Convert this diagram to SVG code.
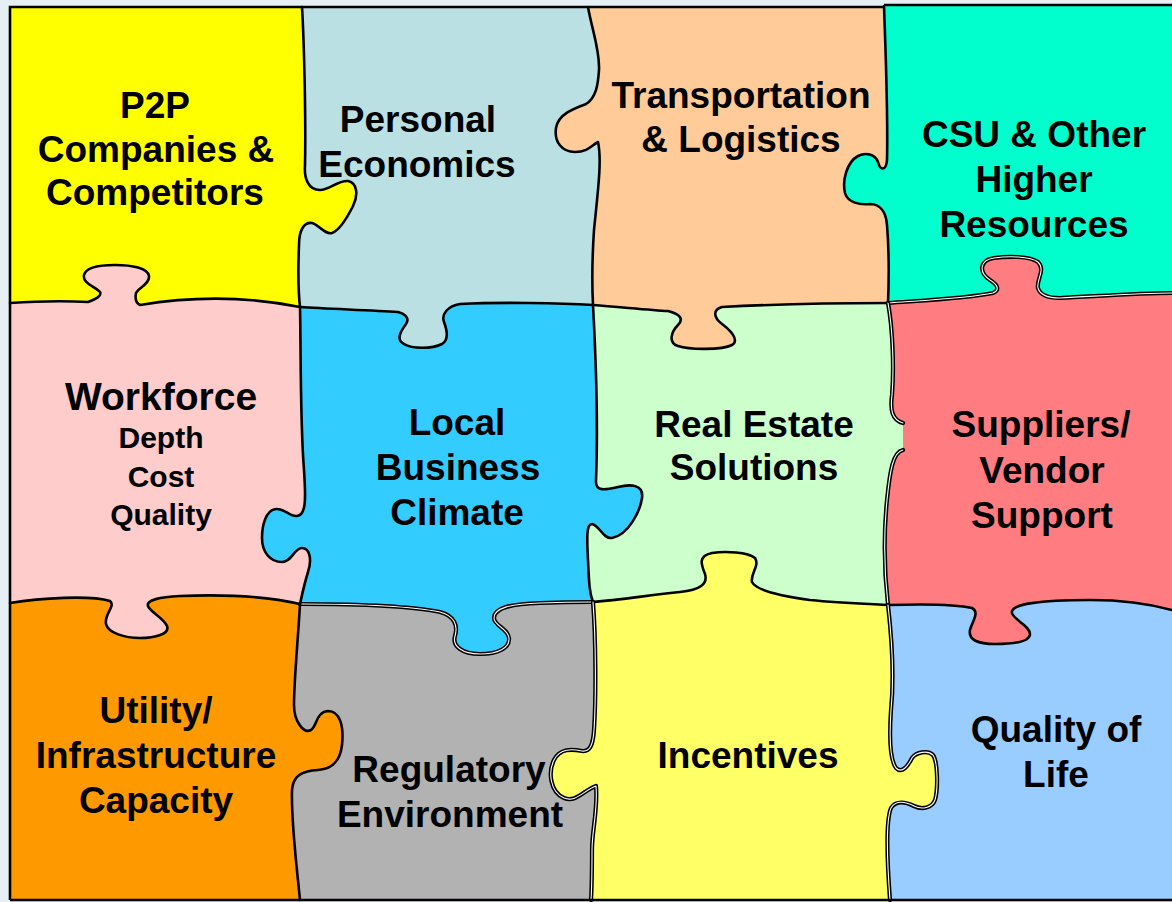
<svg xmlns="http://www.w3.org/2000/svg" width="1172" height="902" viewBox="0 0 1172 902">
<style>
.t{font-family:"Liberation Sans",Arial,sans-serif;font-weight:bold;font-size:37px;fill:#000;text-anchor:middle}
.big{font-size:39px}
.sm{font-size:30px}
.seam{fill:none;stroke:#000;stroke-width:2.6;stroke-linejoin:round;stroke-linecap:round}
.dbo{fill:none;stroke:#000;stroke-width:4.2;stroke-linejoin:round;stroke-linecap:round}
.dbi{fill:none;stroke:#fff;stroke-width:1.1;stroke-linejoin:round;stroke-linecap:round}
.border{fill:none;stroke:#000;stroke-width:2.6}
</style>
<rect x="0" y="0" width="1172" height="902" fill="#e6eff4"/>
<g id="pieces">
<g id="p2p">
<path fill="#FFFF00" d="M10,7 L302,7 C304,40 306,120 305,165 C304,178 308,190 320,190 C330,190 338,180 348,181 C358,183 358,196 353,206 C347,218 340,230 332,233 C325,235 318,224 312,223 C304,222 299,230 299,245 C298,270 298,290 300,307 C230,293 170,300 140,305 C136,303 135,298 136,293 C138,288 150,284 149,276 C148,268 132,265 115,265 C100,265 86,267 84,275 C82,283 96,287 100,292 C102,296 96,299 88,302 C70,301 40,301 10,303 Z"/>
<text class="t" x="155" y="118">P2P</text>
<text class="t" x="156" y="162">Companies &amp;</text>
<text class="t" x="155" y="205">Competitors</text>
</g>
<g id="personal">
<path fill="#BBE0E3" d="M302,7 L588,7 C592,30 600,50 599,70 C598,85 596,98 586,104 C575,108 558,114 556,128 C554,142 562,152 575,152 C588,152 592,145 598,142 C602,160 598,190 594,230 C592,260 592,285 593,305 C560,303 500,302 460,304 C448,306 441,314 444,322 C447,330 449,340 442,344 C432,349 412,349 404,344 C396,340 400,332 406,324 C410,318 405,314 398,312 C370,310 330,309 300,307 C298,290 298,270 299,245 C299,230 304,222 312,223 C318,224 325,235 332,233 C340,230 347,218 353,206 C358,196 358,183 348,181 C338,180 330,190 320,190 C308,190 304,178 305,165 C306,120 304,40 302,7 Z"/>
<text class="t" x="418" y="132">Personal</text>
<text class="t" x="417" y="177">Economics</text>
</g>
<g id="transportation">
<path fill="#FFCC99" d="M588,7 L884,6 C886,60 888,120 887,160 C886,172 880,170 878,162 C875,154 866,152 858,156 C847,162 842,180 845,193 C848,203 860,205 870,204 C880,204 886,212 887,225 C889,250 889,280 888,303 C840,303 780,304 722,307 C712,310 714,318 722,324 C730,330 740,340 732,345 C722,350 690,350 678,346 C668,343 671,332 678,325 C684,319 680,314 668,311 C650,310 620,307 593,305 C592,285 592,260 594,230 C598,190 602,160 598,142 C592,145 588,152 575,152 C562,152 554,142 556,128 C558,114 575,108 586,104 C596,98 598,85 599,70 C600,50 592,30 588,7 Z"/>
<text class="t" x="741" y="108">Transportation</text>
<text class="t" x="741" y="152">&amp; Logistics</text>
</g>
<g id="csu">
<path fill="#00FFCC" d="M884,5 L1172,5 L1172,293 C1140,293 1100,296 1060,298 C1048,298 1040,295 1038,288 C1036,280 1046,270 1038,262 C1030,256 1008,256 994,258 C980,260 978,272 990,280 C998,285 1000,290 993,293 C970,298 930,300 888,303 C889,280 889,250 887,225 C886,212 880,204 870,204 C860,205 848,203 845,193 C842,180 847,162 858,156 C866,152 875,154 878,162 C880,170 886,172 887,160 C888,120 886,60 884,6 Z"/>
<text class="t" x="1034" y="147">CSU &amp; Other</text>
<text class="t" x="1034" y="192">Higher</text>
<text class="t" x="1034" y="237">Resources</text>
</g>
<g id="workforce">
<path fill="#FFCCCC" d="M10,303 C40,301 70,301 88,302 C96,299 102,296 100,292 C96,287 82,283 84,275 C86,267 100,265 115,265 C132,265 148,268 149,276 C150,284 138,288 136,293 C135,298 136,303 140,305 C170,300 230,293 300,307 C301,350 300,420 304,470 C306,500 306,515 297,516 C290,517 284,508 276,509 C266,510 262,525 262,538 C262,552 270,562 282,562 C292,562 294,548 302,548 C310,548 312,560 308,572 C304,585 302,595 300,604 C270,597 230,594 180,596 C160,597 146,600 148,606 C150,612 164,618 167,626 C170,634 155,638 140,638 C125,638 108,633 106,624 C104,614 116,606 110,601 C90,595 40,598 10,603 Z"/>
<text class="t big" x="161" y="410">Workforce</text>
<text class="t sm" x="161" y="448">Depth</text>
<text class="t sm" x="161" y="487">Cost</text>
<text class="t sm" x="161" y="525">Quality</text>
</g>
<g id="local-business">
<path fill="#33CCFF" d="M300,307 C330,309 370,310 398,312 C405,314 410,318 406,324 C400,332 396,340 404,344 C412,349 432,349 442,344 C449,340 447,330 444,322 C441,314 448,306 460,304 C500,302 560,303 593,305 C596,360 598,430 596,480 C595,492 605,490 618,487 C630,484 644,484 642,498 C640,512 628,535 612,538 C603,539 600,526 592,524 C586,524 587,540 588,560 C589,580 589,592 593,602 C585,602 565,602 540,603 C510,604 494,608 494,618 C494,626 508,628 509,638 C510,648 498,654 480,654 C462,654 452,646 455,636 C458,626 455,616 440,612 C410,606 350,604 300,604 C302,595 304,585 308,572 C312,560 310,548 302,548 C294,548 292,562 282,562 C270,562 262,552 262,538 C262,525 266,510 276,509 C284,508 290,517 297,516 C306,515 306,500 304,470 C300,420 301,350 300,307 Z"/>
<text class="t" x="457" y="435">Local</text>
<text class="t" x="458" y="480">Business</text>
<text class="t" x="457" y="525">Climate</text>
</g>
<g id="real-estate">
<path fill="#CCFFCC" d="M593,305 C620,307 650,310 668,311 C680,314 684,319 678,325 C671,332 668,343 678,346 C690,350 722,350 732,345 C740,340 730,330 722,324 C714,318 712,310 722,307 C780,304 840,303 888,303 C893,330 894,370 892,395 C890,410 892,420 903,423 L903,450 C893,452 890,470 887,500 C884,530 884,570 888,605 C870,604 840,603 810,600 C780,596 756,590 752,582 C750,574 760,566 755,558 C748,552 725,551 712,553 C698,556 701,564 705,574 C708,584 700,590 680,592 C650,595 620,600 593,602 C589,592 589,580 588,560 C587,540 586,524 592,524 C600,526 603,539 612,538 C628,535 640,512 642,498 C644,484 630,484 618,487 C605,490 595,492 596,480 C598,430 596,360 593,305 Z"/>
<text class="t" x="754" y="437">Real Estate</text>
<text class="t" x="754" y="480">Solutions</text>
</g>
<g id="suppliers">
<path fill="#FF7C80" d="M888,303 C930,300 970,298 993,293 C1000,290 998,285 990,280 C978,272 980,260 994,258 C1008,256 1030,256 1038,262 C1046,270 1036,280 1038,288 C1040,295 1048,298 1060,298 C1100,296 1140,293 1172,293 L1172,610 C1150,604 1120,600 1090,600 C1040,600 1010,604 1012,613 C1014,620 1030,626 1030,634 C1030,642 1012,644 995,644 C978,644 968,640 970,630 C972,622 980,612 972,608 C955,604 920,604 888,605 C884,570 884,530 887,500 C890,470 893,452 903,450 L903,423 C892,420 890,410 892,395 C894,370 893,330 888,303 Z"/>
<text class="t" x="1041" y="437">Suppliers/</text>
<text class="t" x="1042" y="483">Vendor</text>
<text class="t" x="1042" y="528">Support</text>
</g>
<g id="utility">
<path fill="#FF9900" d="M10,603 C40,598 90,595 110,601 C116,606 104,614 106,624 C108,633 125,638 140,638 C155,638 170,634 167,626 C164,618 150,612 148,606 C146,600 160,597 180,596 C230,594 270,597 300,604 C298,640 294,680 294,705 C294,722 304,734 311,730 C317,726 316,712 328,711 C340,711 344,726 342,745 C340,762 332,769 318,770 C304,771 293,774 292,790 C291,820 296,860 300,900 L10,900 Z"/>
<text class="t" x="156" y="723">Utility/</text>
<text class="t" x="156" y="768">Infrastructure</text>
<text class="t" x="156" y="813">Capacity</text>
</g>
<g id="regulatory">
<path fill="#B2B2B2" d="M300,604 C350,604 410,606 440,612 C455,616 458,626 455,636 C452,646 462,654 480,654 C498,654 510,648 509,638 C508,628 494,626 494,618 C494,608 510,604 540,603 C565,602 585,602 593,602 C596,640 596,700 594,730 C593,745 590,752 582,751 C572,749 560,748 554,760 C548,772 550,792 564,798 C576,803 584,790 596,786 C598,810 592,830 592,850 C592,870 592,885 591,900 L300,900 C296,860 291,820 292,790 C293,774 304,771 318,770 C332,769 340,762 342,745 C344,726 340,711 328,711 C316,712 317,726 311,730 C304,734 294,722 294,705 C294,680 298,640 300,604 Z"/>
<text class="t" x="449" y="782">Regulatory</text>
<text class="t" x="450" y="827">Environment</text>
</g>
<g id="incentives">
<path fill="#FFFF66" d="M593,602 C620,600 650,595 680,592 C700,590 708,584 705,574 C701,564 698,556 712,553 C725,551 748,552 755,558 C760,566 750,574 752,582 C756,590 780,596 810,600 C840,603 870,604 888,605 C892,640 894,680 891,710 C889,740 890,760 896,768 C902,774 908,766 912,758 C916,752 928,750 933,755 C938,762 938,790 935,800 C932,808 922,810 914,806 C906,802 896,800 891,808 C886,820 887,860 890,900 L591,900 C592,885 592,870 592,850 C592,830 598,810 596,786 C584,790 576,803 564,798 C550,792 548,772 554,760 C560,748 572,749 582,751 C590,752 593,745 594,730 C596,700 596,640 593,602 Z"/>
<text class="t" x="748" y="768">Incentives</text>
</g>
<g id="quality-of-life">
<path fill="#99CCFF" d="M888,605 C920,604 955,604 972,608 C980,612 972,622 970,630 C968,640 978,644 995,644 C1012,644 1030,642 1030,634 C1030,626 1014,620 1012,613 C1010,604 1040,600 1090,600 C1120,600 1150,604 1172,610 L1172,900 L890,900 C887,860 886,820 891,808 C896,800 906,802 914,806 C922,810 932,808 935,800 C938,790 938,762 933,755 C928,750 916,752 912,758 C908,766 902,774 896,768 C890,760 889,740 891,710 C894,680 892,640 888,605 Z"/>
<text class="t" x="1056" y="742">Quality of</text>
<text class="t" x="1056" y="787">Life</text>
</g>
</g>
<g id="connectors">
<path class="seam" d="M10,303 C40,301 70,301 88,302 C96,299 102,296 100,292 C96,287 82,283 84,275 C86,267 100,265 115,265 C132,265 148,268 149,276 C150,284 138,288 136,293 C135,298 136,303 140,305 C170,300 230,293 300,307"/>
<path class="seam" d="M300,307 C330,309 370,310 398,312 C405,314 410,318 406,324 C400,332 396,340 404,344 C412,349 432,349 442,344 C449,340 447,330 444,322 C441,314 448,306 460,304 C500,302 560,303 593,305"/>
<path class="seam" d="M593,305 C620,307 650,310 668,311 C680,314 684,319 678,325 C671,332 668,343 678,346 C690,350 722,350 732,345 C740,340 730,330 722,324 C714,318 712,310 722,307 C780,304 840,303 888,303"/>
<path class="dbo" d="M888,303 C930,300 970,298 993,293 C1000,290 998,285 990,280 C978,272 980,260 994,258 C1008,256 1030,256 1038,262 C1046,270 1036,280 1038,288 C1040,295 1048,298 1060,298 C1100,296 1140,293 1172,293"/>
<path class="dbi" d="M888,303 C930,300 970,298 993,293 C1000,290 998,285 990,280 C978,272 980,260 994,258 C1008,256 1030,256 1038,262 C1046,270 1036,280 1038,288 C1040,295 1048,298 1060,298 C1100,296 1140,293 1172,293"/>
<path class="seam" d="M10,603 C40,598 90,595 110,601 C116,606 104,614 106,624 C108,633 125,638 140,638 C155,638 170,634 167,626 C164,618 150,612 148,606 C146,600 160,597 180,596 C230,594 270,597 300,604"/>
<path class="dbo" d="M300,604 C350,604 410,606 440,612 C455,616 458,626 455,636 C452,646 462,654 480,654 C498,654 510,648 509,638 C508,628 494,626 494,618 C494,608 510,604 540,603 C565,602 585,602 593,602"/>
<path class="dbi" d="M300,604 C350,604 410,606 440,612 C455,616 458,626 455,636 C452,646 462,654 480,654 C498,654 510,648 509,638 C508,628 494,626 494,618 C494,608 510,604 540,603 C565,602 585,602 593,602"/>
<path class="seam" d="M593,602 C620,600 650,595 680,592 C700,590 708,584 705,574 C701,564 698,556 712,553 C725,551 748,552 755,558 C760,566 750,574 752,582 C756,590 780,596 810,600 C840,603 870,604 888,605"/>
<path class="seam" d="M888,605 C920,604 955,604 972,608 C980,612 972,622 970,630 C968,640 978,644 995,644 C1012,644 1030,642 1030,634 C1030,626 1014,620 1012,613 C1010,604 1040,600 1090,600 C1120,600 1150,604 1172,610"/>
<path class="seam" d="M302,7 C304,40 306,120 305,165 C304,178 308,190 320,190 C330,190 338,180 348,181 C358,183 358,196 353,206 C347,218 340,230 332,233 C325,235 318,224 312,223 C304,222 299,230 299,245 C298,270 298,290 300,307"/>
<path class="seam" d="M588,7 C592,30 600,50 599,70 C598,85 596,98 586,104 C575,108 558,114 556,128 C554,142 562,152 575,152 C588,152 592,145 598,142 C602,160 598,190 594,230 C592,260 592,285 593,305"/>
<path class="seam" d="M884,6 C886,60 888,120 887,160 C886,172 880,170 878,162 C875,154 866,152 858,156 C847,162 842,180 845,193 C848,203 860,205 870,204 C880,204 886,212 887,225 C889,250 889,280 888,303"/>
<path class="seam" d="M300,307 C301,350 300,420 304,470 C306,500 306,515 297,516 C290,517 284,508 276,509 C266,510 262,525 262,538 C262,552 270,562 282,562 C292,562 294,548 302,548 C310,548 312,560 308,572 C304,585 302,595 300,604"/>
<path class="seam" d="M593,305 C596,360 598,430 596,480 C595,492 605,490 618,487 C630,484 644,484 642,498 C640,512 628,535 612,538 C603,539 600,526 592,524 C586,524 587,540 588,560 C589,580 589,592 593,602"/>
<path class="dbo" d="M888,303 C893,330 894,370 892,395 C890,410 892,420 903,423 M903,450 C893,452 890,470 887,500 C884,530 884,570 888,605"/>
<path class="dbi" d="M888,303 C893,330 894,370 892,395 C890,410 892,420 903,423 M903,450 C893,452 890,470 887,500 C884,530 884,570 888,605"/>
<path class="seam" d="M300,604 C298,640 294,680 294,705 C294,722 304,734 311,730 C317,726 316,712 328,711 C340,711 344,726 342,745 C340,762 332,769 318,770 C304,771 293,774 292,790 C291,820 296,860 300,900"/>
<path class="dbo" d="M593,602 C596,640 596,700 594,730 C593,745 590,752 582,751 C572,749 560,748 554,760 C548,772 550,792 564,798 C576,803 584,790 596,786 C598,810 592,830 592,850 C592,870 592,885 591,900"/>
<path class="dbi" d="M593,602 C596,640 596,700 594,730 C593,745 590,752 582,751 C572,749 560,748 554,760 C548,772 550,792 564,798 C576,803 584,790 596,786 C598,810 592,830 592,850 C592,870 592,885 591,900"/>
<path class="dbo" d="M888,605 C892,640 894,680 891,710 C889,740 890,760 896,768 C902,774 908,766 912,758 C916,752 928,750 933,755 C938,762 938,790 935,800 C932,808 922,810 914,806 C906,802 896,800 891,808 C886,820 887,860 890,900"/>
<path class="dbi" d="M888,605 C892,640 894,680 891,710 C889,740 890,760 896,768 C902,774 908,766 912,758 C916,752 928,750 933,755 C938,762 938,790 935,800 C932,808 922,810 914,806 C906,802 896,800 891,808 C886,820 887,860 890,900"/>
<path class="border" d="M10,900 L10,7 L884,7 M884,5 L1172,5 M10,900 L1172,900"/>
</g>
</svg>
